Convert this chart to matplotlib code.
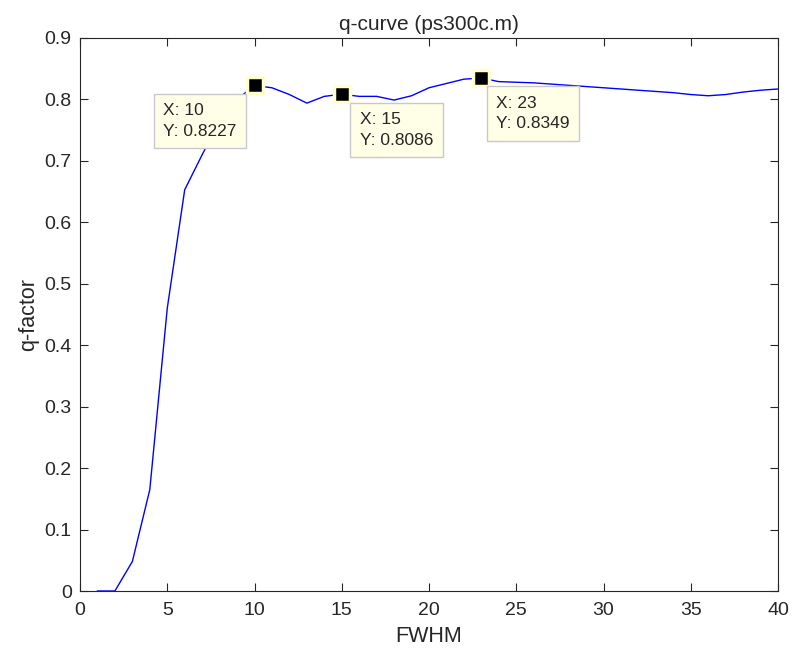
import matplotlib
matplotlib.use("Agg")
import matplotlib.pyplot as plt

fwhm = list(range(1, 41))
qfactor = [0.0, 0.0, 0.048, 0.165, 0.46, 0.653, 0.71, 0.765, 0.80, 0.8227,
           0.819, 0.808, 0.794, 0.805, 0.8086, 0.805, 0.805, 0.799, 0.806, 0.819,
           0.826, 0.833, 0.8349, 0.829, 0.828, 0.827, 0.825, 0.823, 0.821, 0.819,
           0.817, 0.815, 0.813, 0.811, 0.808, 0.806, 0.808, 0.812, 0.815, 0.817]
tip_x = [10, 15, 23]
tip_y = [0.8227, 0.8086, 0.8349]
tip_labels = ["X: 10\nY: 0.8227", "X: 15\nY: 0.8086", "X: 23\nY: 0.8349"]
tip_offsets = [(-18, -18), (18, -18), (15, -18)]
tip_ha = ["right", "left", "left"]

plt.rcParams['font.family'] = ['Liberation Sans', 'DejaVu Sans']
fig = plt.figure(figsize=(7.93, 6.5), dpi=100)
ax = fig.add_axes([80/793, 1-591/650, (778-80)/793, (591-38)/650])
ax.plot(fwhm, qfactor, color='#0000ff', lw=1)
ax.set_xlim(0, 40)
ax.set_ylim(0, 0.9)
ax.set_xticks(range(0, 41, 5))
ax.set_yticks([i/10 for i in range(10)])
ax.set_yticklabels(['0'] + [f'{i/10:.1f}' for i in range(1, 10)])
ax.tick_params(direction='in', top=True, right=True, length=6, labelsize=14,
               colors='#262626', pad=6)
ax.tick_params(axis='x', pad=8)
for s in ax.spines.values():
    s.set_linewidth(0.8)
    s.set_color('#262626')
ax.set_xlabel('FWHM', fontsize=15.5, labelpad=5, color='#262626')
ax.set_ylabel('q-factor', fontsize=15.5, labelpad=4, color='#262626')
ax.set_title('q-curve (ps300c.m)', fontsize=15, pad=6, color='#262626')

for x, y, lab, off, ha in zip(tip_x, tip_y, tip_labels, tip_offsets, tip_ha):
    ax.plot([x], [y], marker='s', ms=12, mfc='black', mec='#ffffd0', mew=2.5, zorder=5)
    ax.annotate(lab, (x, y), xytext=off, textcoords='offset pixels', ha=ha, va='top',
                multialignment='left', fontsize=12.5, linespacing=1.45, color='#262626',
                bbox=dict(boxstyle='square,pad=0.55', fc='#ffffe8', ec='#c8c8c8', lw=1),
                zorder=6)

fig.savefig('out.png', dpi=100)
